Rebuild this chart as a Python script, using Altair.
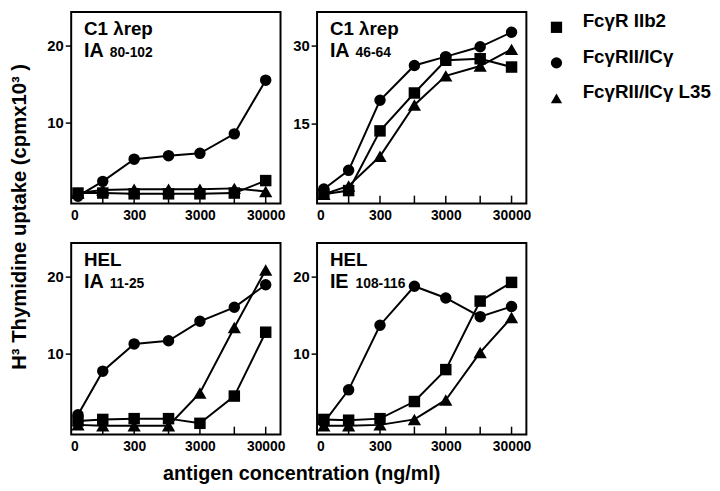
import altair as alt
import pandas as pd

FONT = "Liberation Sans"

# ---- data -------------------------------------------------------------
doses = [0, 100, 300, 1000, 3000, 10000, 30000]          # ng/ml
tick_doses = [100, 300, 1000, 3000, 10000, 30000]
label_doses = [0, 300, 3000, 30000]

series_names = ["FcγR IIb2", "FcγRII/ICγ", "FcγRII/ICγ L35"]
series_shapes = ["square", "circle", "triangle-up"]

panel_antigen = ["C1 λrep", "C1 λrep", "HEL", "HEL"]
panel_mhc = ["IA", "IA", "IA", "IE"]
panel_peptide = ["80-102", "46-64", "11-25", "108-116"]

# H3 thymidine uptake (cpm x 10^3)
p1_sq = [1.0, 1.0, 0.9, 0.9, 0.9, 1.0, 2.6]
p1_ci = [0.6, 2.5, 5.35, 5.8, 6.1, 8.6, 15.5]
p1_tr = [1.0, 1.4, 1.5, 1.5, 1.5, 1.6, 1.2]

p2_sq = [1.3, 2.0, 13.5, 20.8, 27.1, 27.4, 25.8]
p2_ci = [2.3, 5.9, 19.4, 26.1, 27.8, 29.7, 32.5]
p2_tr = [1.3, 2.9, 8.6, 18.5, 24.1, 26.0, 29.2]

p3_sq = [1.4, 1.6, 1.7, 1.7, 1.1, 4.6, 12.8]
p3_ci = [2.2, 7.8, 11.3, 11.7, 14.2, 16.0, 18.9]
p3_tr = [0.9, 0.8, 0.8, 0.8, 5.0, 13.4, 20.8]

p4_sq = [1.6, 1.5, 1.7, 3.9, 8.0, 16.8, 19.2]
p4_ci = [1.2, 5.4, 13.7, 18.7, 17.2, 14.8, 16.1]
p4_tr = [0.8, 0.8, 0.9, 1.6, 4.1, 10.2, 14.7]

panel_values = [
    [p1_sq, p1_ci, p1_tr],
    [p2_sq, p2_ci, p2_tr],
    [p3_sq, p3_ci, p3_tr],
    [p4_sq, p4_ci, p4_tr],
]
y_tick_values = [[10, 20], [15, 30], [10, 20], [10, 20]]
y_domains = [[-0.35, 24.25], [-0.5, 36.4], [-0.35, 24.25], [-0.35, 24.25]]

y_title = "H³ Thymidine uptake (cpmx10³ )"
x_title = "antigen concentration (ng/ml)"

# ---- layout / style ---------------------------------------------------
ZERO_AT = 42            # where the "0" dose sits on the log axis
ZERO_LABEL_AT = 37      # where its "0" tick label sits
X_DOMAIN = [33.1, 50400]
W, H = 212, 194
GAP_X, GAP_Y = 37, 40


def xpos(d):
    return d if d > 0 else ZERO_AT


def make_panel(i, show_legend, show_ytitle, show_xtitle):
    rows = []
    for name, vals in zip(series_names, panel_values[i]):
        for d, v in zip(doses, vals):
            rows.append({"series": name, "dose": d, "xpos": xpos(d), "value": v})
    df = pd.DataFrame(rows)

    xaxis_kw = dict(
        values=[d if d > 0 else ZERO_LABEL_AT for d in label_doses],
        labelExpr="datum.value < 100 ? '0' : format(datum.value, 'd')",
        ticks=False, domain=False, grid=False,
        labelFont=FONT, labelFontSize=14, labelFontWeight="bold",
        labelColor="black", labelPadding=5, labelFlush=False,
        labelOverlap=False,
    )
    if show_xtitle:
        xaxis_kw.update(
            title=x_title, titleFont=FONT, titleFontSize=20,
            titleFontWeight="bold", titleColor="black", titleAngle=0,
            titleAlign="center", titleBaseline="alphabetic",
            titleX=233, titleY=45,
        )
    else:
        xaxis_kw.update(title=None)
    x = alt.X(
        "xpos:Q",
        scale=alt.Scale(type="log", domain=X_DOMAIN, nice=False),
        axis=alt.Axis(**xaxis_kw),
    )

    yaxis_kw = dict(
        values=y_tick_values[i], ticks=True, tickSize=6, tickWidth=1.5,
        tickColor="black", domain=False, grid=False,
        labelFont=FONT, labelFontSize=15, labelFontWeight="bold",
        labelColor="black", labelPadding=2,
    )
    if show_ytitle:
        yaxis_kw.update(
            title=y_title, titleFont=FONT, titleFontSize=20.5,
            titleFontWeight="bold", titleColor="black", titleAngle=270,
            titleAlign="center", titleBaseline="alphabetic",
            titleX=-46, titleY=207,
        )
    else:
        yaxis_kw.update(title=None)
    y = alt.Y(
        "value:Q",
        scale=alt.Scale(domain=y_domains[i], nice=False, zero=False),
        axis=alt.Axis(**yaxis_kw),
    )

    base = alt.Chart(df)
    lines = base.mark_line(color="black", strokeWidth=2).encode(
        x=x, y=y, detail="series:N", order="xpos:Q"
    )

    if show_legend:
        legend = alt.Legend(
            orient="none", legendX=233, legendY=6, title=None, padding=0,
            labelFont=FONT, labelFontSize=19, labelFontWeight="bold",
            labelColor="black", labelBaseline="alphabetic", labelOffset=17,
            symbolSize=130, symbolFillColor="black", symbolStrokeWidth=0,
            symbolOpacity=1, rowPadding=14,
        )
    else:
        legend = None

    pts = base.mark_point(filled=True, color="black", opacity=1).encode(
        x=x, y=y,
        shape=alt.Shape("series:N",
                        scale=alt.Scale(domain=series_names, range=series_shapes),
                        legend=legend),
        size=alt.condition(alt.datum.series == series_names[2],
                           alt.value(180), alt.value(135)),
    )

    ticks = alt.Chart(pd.DataFrame({"xpos": tick_doses})).mark_rule(
        color="black", strokeWidth=1.5
    ).encode(x=x, y=alt.value(H), y2=alt.value(H - 8))

    t1 = alt.Chart(pd.DataFrame({"t": [panel_antigen[i]]})).mark_text(
        align="left", baseline="alphabetic", font=FONT, fontSize=19,
        fontWeight="bold", color="black"
    ).encode(x=alt.value(13), y=alt.value(23), text="t:N")
    t2 = alt.Chart(pd.DataFrame({"t": [panel_mhc[i]]})).mark_text(
        align="left", baseline="alphabetic", font=FONT, fontSize=20,
        fontWeight="bold", color="black"
    ).encode(x=alt.value(13), y=alt.value(46), text="t:N")
    t3 = alt.Chart(pd.DataFrame({"t": [panel_peptide[i]]})).mark_text(
        align="left", baseline="alphabetic", font=FONT, fontSize=14,
        fontWeight="bold", color="black"
    ).encode(x=alt.value(39), y=alt.value(46), text="t:N")

    return alt.layer(lines, ticks, pts, t1, t2, t3).properties(width=W, height=H)


chart = alt.concat(
    make_panel(0, False, True, False),
    make_panel(1, True, False, False),
    make_panel(2, False, False, True),
    make_panel(3, False, False, False),
    columns=2,
    spacing={"row": GAP_Y, "column": GAP_X},
    bounds="flush",
).resolve_scale(
    x="independent", y="independent", shape="independent"
).configure_view(
    stroke="black", strokeWidth=2
).properties(padding=0)

chart.save("out.html", embed_options={"renderer": "svg", "actions": False})
